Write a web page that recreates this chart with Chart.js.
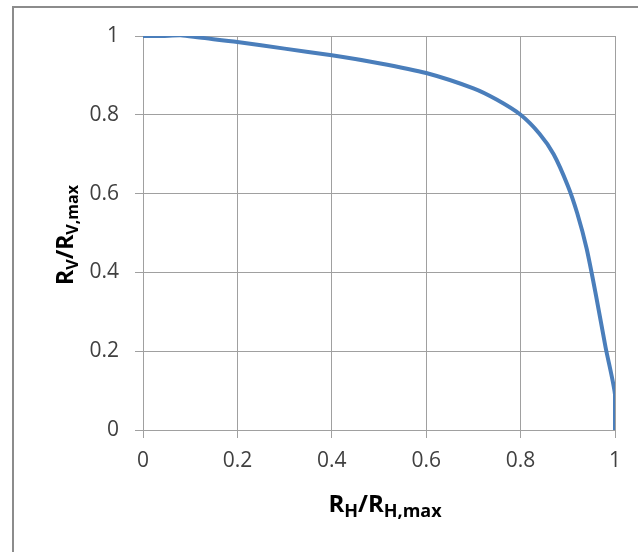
<!DOCTYPE html>
<html>
<head>
<meta charset="utf-8">
<script src="https://cdn.jsdelivr.net/npm/chart.js@4"></script>
<style>
  html, body { margin: 0; padding: 0; background: #fff; }
  #wrap { position: relative; width: 638px; height: 552px; overflow: hidden; }
  #frame { position: absolute; left: 12px; top: 6px; width: 700px; height: 544px;
           border-left: 2px solid #8c8c8c; border-top: 2px solid #8c8c8c; border-bottom: 1px solid #c0c0c0; }
  canvas { position: absolute; left: 0; top: 0; }
</style>
</head>
<body>
<div id="wrap">
  <div id="frame"></div>
  <canvas id="myChart" width="638" height="552"></canvas>
</div>
<script>
// ratio curve
const rhRatio = [0, 0.04, 0.08, 0.12, 0.2, 0.3, 0.4, 0.5, 0.6, 0.7, 0.75, 0.8, 0.84, 0.87, 0.9, 0.92, 0.94, 0.96, 0.98, 1.0, 1.0];
const rvRatio = [1.0, 1.0, 1.002, 0.996, 0.985, 0.968, 0.951, 0.931, 0.906, 0.867, 0.838, 0.80, 0.752, 0.70, 0.62, 0.55, 0.46, 0.34, 0.21, 0.09, 0];
const tickVals = [0, 0.2, 0.4, 0.6, 0.8, 1];

const gridCol = '#a0a0a0';
const tickFont = { family: 'Open Sans', size: 21 };

// axis titles need subscripts, so draw them by hand
function richText(ctx, parts, x, y, big, small) {
  let w = 0;
  parts.forEach(p => {
    ctx.font = 'bold ' + (p[1] ? small : big) + 'px "Open Sans"';
    w += ctx.measureText(p[0]).width;
  });
  let cx = x - w / 2;
  parts.forEach(p => {
    ctx.font = 'bold ' + (p[1] ? small : big) + 'px "Open Sans"';
    ctx.fillText(p[0], cx, p[1] ? y + 5 : y);
    cx += ctx.measureText(p[0]).width;
  });
}
const axisTitles = {
  id: 'axisTitles',
  afterDraw(chart) {
    const ctx = chart.ctx;
    ctx.save();
    ctx.fillStyle = '#000';
    ctx.textBaseline = 'alphabetic';
    ctx.textAlign = 'left';
    richText(ctx, [['R'], ['H', 1], ['/R'], ['H,max', 1]], 385, 512, 24, 18);
    ctx.translate(73, 235);
    ctx.rotate(-Math.PI / 2);
    richText(ctx, [['R'], ['V', 1], ['/R'], ['V,max', 1]], 0, 0, 23, 16);
    ctx.restore();
  }
};

const points = rhRatio.map((x, i) => ({ x: x, y: rvRatio[i] }));

new Chart(document.getElementById('myChart'), {
  type: 'scatter',
  data: {
    datasets: [{
      data: points,
      showLine: true,
      borderColor: '#4a7ebb',
      borderWidth: 4,
      pointRadius: 0,
      tension: 0.25
    }]
  },
  options: {
    responsive: false,
    animation: false,
    layout: { padding: { left: 0, top: 36, right: 23, bottom: 0 } },
    plugins: { legend: { display: false }, tooltip: { enabled: false } },
    scales: {
      x: {
        type: 'linear', min: 0, max: 1,
        afterBuildTicks: s => { s.ticks = tickVals.map(v => ({ value: v })); },
        afterFit: s => { s.height = 122; },
        grid: { color: gridCol, tickLength: 8, tickColor: gridCol },
        border: { color: gridCol },
        ticks: { font: tickFont, color: '#404040', padding: 10, maxRotation: 0,
                 callback: v => String(v) }
      },
      y: {
        type: 'linear', min: 0, max: 1,
        afterBuildTicks: s => { s.ticks = tickVals.map(v => ({ value: v })); },
        afterFit: s => { s.width = 143; },
        grid: { color: gridCol, tickLength: 8, tickColor: gridCol },
        border: { color: gridCol },
        ticks: { font: tickFont, color: '#404040', padding: 16,
                 callback: v => String(v) }
      }
    }
  },
  plugins: [axisTitles]
});
</script>
</body>
</html>
